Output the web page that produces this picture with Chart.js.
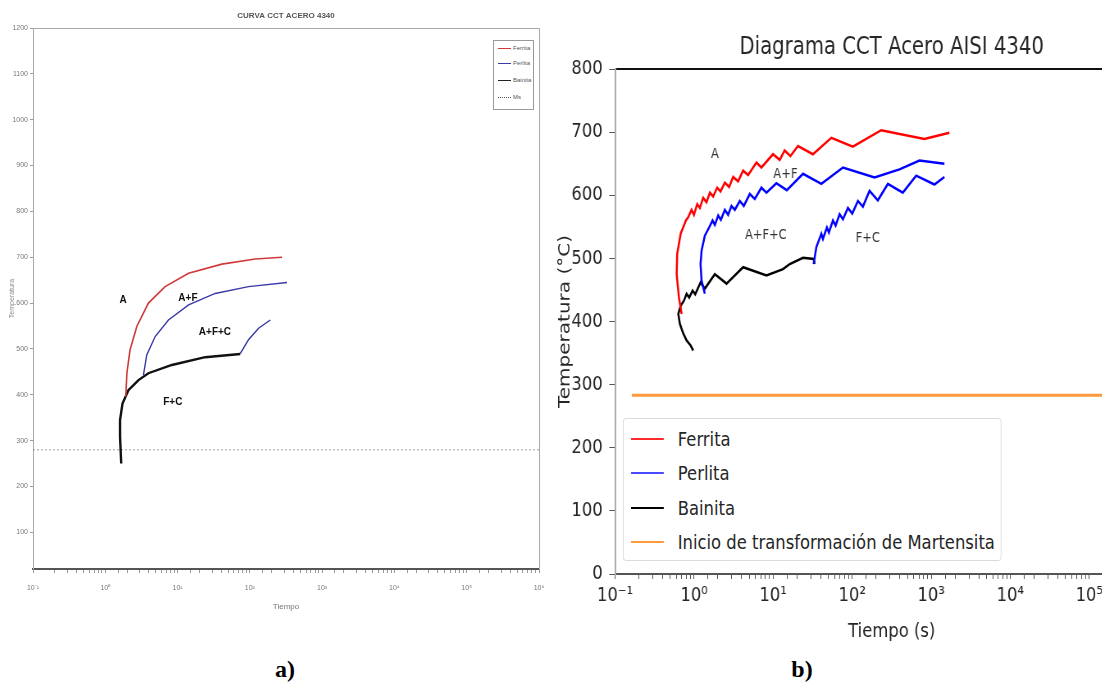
<!DOCTYPE html>
<html>
<head>
<meta charset="utf-8">
<script src="https://cdn.jsdelivr.net/npm/chart.js@4.4.1/dist/chart.umd.min.js"></script>
<style>
  html, body { margin: 0; padding: 0; width: 1102px; height: 694px; overflow: hidden; background: #fff; }
  .panel { position: absolute; top: 0; }
  #panelA { left: 0; width: 560px; height: 612px; }
  #panelB { left: 540px; width: 788px; height: 644px; transform: scaleX(0.82); transform-origin: 0 0; }
  .legend { position: absolute; background: #fff; }
  .legend .row { position: absolute; white-space: nowrap; }
  .legend .swatch { position: absolute; height: 0; }
  #legendA { left: 493px; top: 40px; width: 39px; height: 68px; border: 1px solid #999; }
  #legendA .row { font: 6px "Liberation Sans", sans-serif; color: #555; line-height: 8px; left: 0; }
  #legendA .swatch { left: 4px; width: 13px; top: 4px; border-top: 1.5px solid; }
  #legendA .txt { position: absolute; left: 19px; top: 0; }
  #legendB { left: 101px; top: 418px; width: 460px; height: 141px; border: 1px solid #d6d6d6; border-radius: 4px; }
  #legendB .row { font: 20px "DejaVu Sans", sans-serif; color: #262626; line-height: 24px; left: 0; }
  #legendB .swatch { left: 9px; width: 40px; top: 11px; border-top: 2.5px solid; }
  #legendB .txt { position: absolute; left: 66px; top: 0; }
  .tag { position: absolute; top: 656px; width: 60px; text-align: center; font: bold 24px "Liberation Serif", serif; color: #000; }
</style>
</head>
<body>
<div id="panelA" class="panel">
  <canvas id="chartA" width="560" height="612"></canvas>
  <div id="legendA" class="legend"></div>
</div>
<div id="panelB" class="panel">
  <canvas id="chartB" width="788" height="644"></canvas>
  <div id="legendB" class="legend"></div>
</div>
<div class="tag" style="left:255px">a)</div>
<div class="tag" style="left:772px">b)</div>

<script>
// ---- panel a) data (time in s, temperature in °C) ----
const ferritaA_t = [1.92, 1.99, 2.2, 2.73, 3.95, 6.73, 14.2, 41.1, 119, 279];
const ferritaA_T = [396, 447, 498, 549, 600, 636, 665, 685, 696, 700];
const perlitaA_t = [3.37, 3.75, 4.9, 7.48, 14.2, 33.1, 95.9, 327];
const perlitaA_T = [443, 487, 527, 563, 596, 621, 636, 645];
const perlitaA2_t = [73.6, 95.9, 132, 192];
const perlitaA2_T = [490, 520, 545, 563];
const bainitaA_t = [1.66, 1.6, 1.6, 1.73, 2.09, 2.88, 3.95, 8.34, 24.1, 73.6];
const bainitaA_T = [250, 309, 345, 381, 410, 432, 447, 465, 482, 489];
const msA_t = [0.1, 1e6];
const msA_T = [280, 280];
const regionA = ['A', 'A+F', 'A+F+C', 'F+C'];
const regionA_t = [1.76, 13.9, 32.9, 8.6];
const regionA_T = [607, 611, 537, 384];

// ---- panel b) data ----
const ferritaB_t = [0.696, 0.643, 0.602, 0.611, 0.676, 0.788, 0.842, 0.929, 0.995, 1.095, 1.183, 1.302,
  1.436, 1.584, 1.743, 1.956, 2.158, 2.449, 2.775, 3.121, 3.606, 4.168, 4.826, 6.149, 7.107, 9.966,
  12.12, 14.0, 16.55, 20.62, 31.89, 54.51, 102.0, 232.9, 820.1, 1697];
const ferritaB_T = [412, 438, 475, 507, 539, 560, 565, 577, 569, 586, 580, 596,
  589, 604, 598, 612, 606, 620, 613, 629, 622, 639, 632, 652, 644, 665,
  656, 671, 662, 678, 665, 691, 677, 703, 689, 699];
const perlitaB_t = [1.367, 1.243, 1.207, 1.243, 1.367, 1.552, 1.713, 1.830, 2.018, 2.182, 2.449, 2.695,
  2.972, 3.278, 3.787, 4.252, 5.069, 5.856, 7.107, 8.232, 10.99, 14.9, 23.88, 40.73, 76.42, 191.9,
  396.3, 710.1, 1469];
const perlitaB_T = [444, 465, 491, 512, 536, 549, 560, 553, 568, 561, 577, 569,
  583, 577, 591, 583, 602, 594, 612, 604, 619, 608, 634, 618, 644, 628,
  641, 655, 650];
const perlitaB2_t = [32.53, 35.25, 40.73, 42.68, 47.9, 50.75, 57.11, 61.74, 69.3, 76.42, 88.31, 100.3,
  118.2, 136.6, 165.7, 211.2, 282.6, 437.0, 645.1, 1097, 1469];
const perlitaB2_T = [491, 518, 539, 531, 549, 541, 560, 552, 570, 562, 580, 571,
  591, 582, 607, 592, 618, 604, 631, 617, 629];
const bainitaB_t = [0.975, 0.904, 0.804, 0.729, 0.662, 0.631, 0.676, 0.744, 0.804, 0.867, 0.958, 1.033,
  1.207, 1.367, 1.830, 2.572, 4.168, 8.232, 13.34, 16.22, 23.88, 32.53, 33.49];
const bainitaB_T = [354, 362, 370, 381, 396, 412, 425, 433, 444, 438, 449, 443,
  462, 452, 475, 460, 486, 473, 483, 491, 501, 499, 491];
const msB_t = [0.163, 1e6];
const msB_T = [283, 283];
const regionB = ['A', 'A+F', 'A+F+C', 'F+C'];
const regionB_t = [1.83, 14.3, 8.07, 158];
const regionB_T = [665, 633, 536, 531];

// tick labels, indexed by exponent + 1
const timeTickLabels = ['10⁻¹', '10⁰', '10¹', '10²', '10³', '10⁴', '10⁵', '10⁶'];

// legend entries
const legendA = [['Ferrita', '#d03a3a', 'solid'], ['Perlita', '#3a3aa8', 'solid'], ['Bainita', '#222', 'solid'], ['Ms', '#555', 'dotted']];
const legendB = [['Ferrita', '#ff2a2a'], ['Perlita', '#4a4aff'], ['Bainita', '#000'], ['Inicio de transformación de Martensita', '#ff9a3c']];

function pts(ts, Ts) {
  return ts.map((t, i) => ({ x: t, y: Ts[i] }));
}

function powLabel(value) {
  const e = Math.log10(value);
  if (Math.abs(e - Math.round(e)) < 1e-6) return timeTickLabels[Math.round(e) + 1] || '';
  return '';
}

// draws the phase region names at (time, temperature) through the scales
const regionLabelPlugin = {
  id: 'regionLabels',
  afterDatasetsDraw(chart, args, opts) {
    const { ctx } = chart;
    const x = chart.scales.x, y = chart.scales.y;
    ctx.save();
    ctx.font = opts.fontCss;
    ctx.fillStyle = opts.color;
    ctx.textAlign = 'center';
    ctx.textBaseline = 'middle';
    opts.texts.forEach((txt, i) => {
      ctx.fillText(txt, x.getPixelForValue(opts.times[i]), y.getPixelForValue(opts.temps[i]));
    });
    ctx.restore();
  }
};

function buildLegend(id, entries, withStyle) {
  const box = document.getElementById(id);
  const rowTops = id === 'legendA' ? [3, 18, 35, 52] : [8, 42, 77, 111];
  entries.forEach((e, i) => {
    const row = document.createElement('div');
    row.className = 'row';
    row.style.top = rowTops[i] + 'px';
    const sw = document.createElement('span');
    sw.className = 'swatch';
    sw.style.borderTopColor = e[1];
    if (withStyle) sw.style.borderTopStyle = e[2];
    const tx = document.createElement('span');
    tx.className = 'txt';
    tx.textContent = e[0];
    row.appendChild(sw);
    row.appendChild(tx);
    box.appendChild(row);
  });
}
buildLegend('legendA', legendA, true);
buildLegend('legendB', legendB, false);

// ---------------- chart a) ----------------
const fontA = { family: 'Liberation Sans', size: 7 };
new Chart(document.getElementById('chartA'), {
  type: 'line',
  data: {
    datasets: [
      { label: 'Ferrita', data: pts(ferritaA_t, ferritaA_T), borderColor: '#d03a3a', borderWidth: 1.6, xAxisID: 'x', yAxisID: 'y' },
      { label: 'Perlita', data: pts(perlitaA_t, perlitaA_T), borderColor: '#3a3aa8', borderWidth: 1.4, xAxisID: 'x', yAxisID: 'y' },
      { label: 'Perlita 2', data: pts(perlitaA2_t, perlitaA2_T), borderColor: '#3a3aa8', borderWidth: 1.4, xAxisID: 'x', yAxisID: 'y' },
      { label: 'Bainita', data: pts(bainitaA_t, bainitaA_T), borderColor: '#111', borderWidth: 2.4, xAxisID: 'x', yAxisID: 'y' },
      { label: 'Ms', data: pts(msA_t, msA_T), borderColor: '#a0a0a0', borderWidth: 1, borderDash: [2, 2], xAxisID: 'x', yAxisID: 'y' }
    ]
  },
  options: {
    responsive: false,
    animation: false,
    layout: { padding: { left: 0, right: 21, top: 0, bottom: 0 } },
    elements: { point: { radius: 0 }, line: { tension: 0, fill: false } },
    plugins: {
      legend: { display: false },
      tooltip: { enabled: false },
      title: {
        display: true, text: 'CURVA CCT ACERO 4340', fullSize: false,
        font: { family: 'Liberation Sans', size: 8, weight: 'bold' }, color: '#555',
        padding: { top: 11, bottom: 7.4 }
      },
      regionLabels: { texts: regionA, times: regionA_t, temps: regionA_T, fontCss: 'bold 10px "Liberation Sans"', color: '#111' }
    },
    scales: {
      x: {
        type: 'logarithmic', position: 'bottom', min: 0.1, max: 1e6,
        afterFit: s => { s.height = 43; },
        ticks: { autoSkip: false, maxRotation: 0, padding: 11, font: fontA, color: '#777', callback: v => powLabel(v) },
        grid: { drawOnChartArea: false, tickLength: 4, color: '#999' },
        border: { color: '#555', width: 2 },
        title: { display: true, text: 'Tiempo', font: { family: 'Liberation Sans', size: 8 }, color: '#777', padding: { top: 0, bottom: 0 } }
      },
      x2: {
        type: 'logarithmic', position: 'top', min: 0.1, max: 1e6,
        afterFit: s => { s.height = 0; },
        ticks: { display: false },
        grid: { drawOnChartArea: false, drawTicks: false },
        border: { color: '#aaa', width: 1 }
      },
      y: {
        type: 'linear', position: 'left', min: 20, max: 1200,
        afterFit: s => { s.width = 33; },
        afterBuildTicks: s => { s.ticks = s.ticks.filter(t => t.value % 100 === 0); },
        ticks: { stepSize: 100, padding: 2, font: fontA, color: '#777', callback: v => String(v) },
        grid: { drawOnChartArea: false, tickLength: 3, color: '#999' },
        border: { color: '#aaa', width: 1 },
        title: { display: true, text: 'Temperatura', font: fontA, color: '#888', padding: { top: 8, bottom: 0 } }
      },
      y2: {
        type: 'linear', position: 'right', min: 20, max: 1200,
        afterFit: s => { s.width = 0; },
        ticks: { display: false },
        grid: { drawOnChartArea: false, drawTicks: false },
        border: { color: '#aaa', width: 1 }
      }
    }
  },
  plugins: [regionLabelPlugin]
});

// ---------------- chart b) ----------------
const fontB = { family: 'DejaVu Sans', size: 20 };
new Chart(document.getElementById('chartB'), {
  type: 'line',
  data: {
    datasets: [
      { label: 'Ferrita', data: pts(ferritaB_t, ferritaB_T), borderColor: '#ff0000', borderWidth: 2.5, xAxisID: 'x', yAxisID: 'y' },
      { label: 'Perlita', data: pts(perlitaB_t, perlitaB_T), borderColor: '#0000ff', borderWidth: 2.5, xAxisID: 'x', yAxisID: 'y' },
      { label: 'Perlita 2', data: pts(perlitaB2_t, perlitaB2_T), borderColor: '#0000ff', borderWidth: 2.5, xAxisID: 'x', yAxisID: 'y' },
      { label: 'Bainita', data: pts(bainitaB_t, bainitaB_T), borderColor: '#000000', borderWidth: 2.5, xAxisID: 'x', yAxisID: 'y' },
      { label: 'Inicio de transformación de Martensita', data: pts(msB_t, msB_T), borderColor: '#ff9a3c', borderWidth: 3, xAxisID: 'x', yAxisID: 'y' }
    ]
  },
  options: {
    responsive: false,
    animation: false,
    layout: { padding: { left: 0, right: 20.4, top: 0, bottom: 0 } },
    elements: { point: { radius: 0 }, line: { tension: 0, fill: false } },
    plugins: {
      legend: { display: false },
      tooltip: { enabled: false },
      title: {
        display: true, text: 'Diagrama CCT Acero AISI 4340', fullSize: false,
        font: { family: 'DejaVu Sans', size: 24, weight: 'normal' }, color: '#262626',
        padding: { top: 33, bottom: 7.2 }
      },
      regionLabels: { texts: regionB, times: regionB_t, temps: regionB_T, fontCss: '14px "DejaVu Sans"', color: '#333' }
    },
    scales: {
      x: {
        type: 'logarithmic', position: 'bottom', min: 0.1, max: 1e6,
        afterFit: s => { s.height = 70; },
        ticks: { autoSkip: false, maxRotation: 0, padding: 5, font: fontB, color: '#262626', callback: v => powLabel(v) },
        grid: { drawOnChartArea: false, tickLength: 5, color: '#555' },
        border: { color: '#555', width: 2 },
        title: { display: true, text: 'Tiempo (s)', font: fontB, color: '#262626', padding: { top: 0, bottom: 0 } }
      },
      x2: {
        type: 'logarithmic', position: 'top', min: 0.1, max: 1e6,
        afterFit: s => { s.height = 0; },
        ticks: { display: false },
        grid: { drawOnChartArea: false, drawTicks: false },
        border: { color: '#111', width: 2 }
      },
      y: {
        type: 'linear', position: 'left', min: 0, max: 800,
        afterFit: s => { s.width = 91.5; },
        ticks: { stepSize: 100, padding: 8, font: fontB, color: '#262626' },
        grid: { drawOnChartArea: false, tickLength: 7, color: '#555' },
        border: { color: '#aaa', width: 2 },
        title: { display: true, text: 'Temperatura (°C)', font: fontB, color: '#262626', padding: { top: 18.5, bottom: 0 } }
      }
    }
  },
  plugins: [regionLabelPlugin]
});
</script>
</body>
</html>
